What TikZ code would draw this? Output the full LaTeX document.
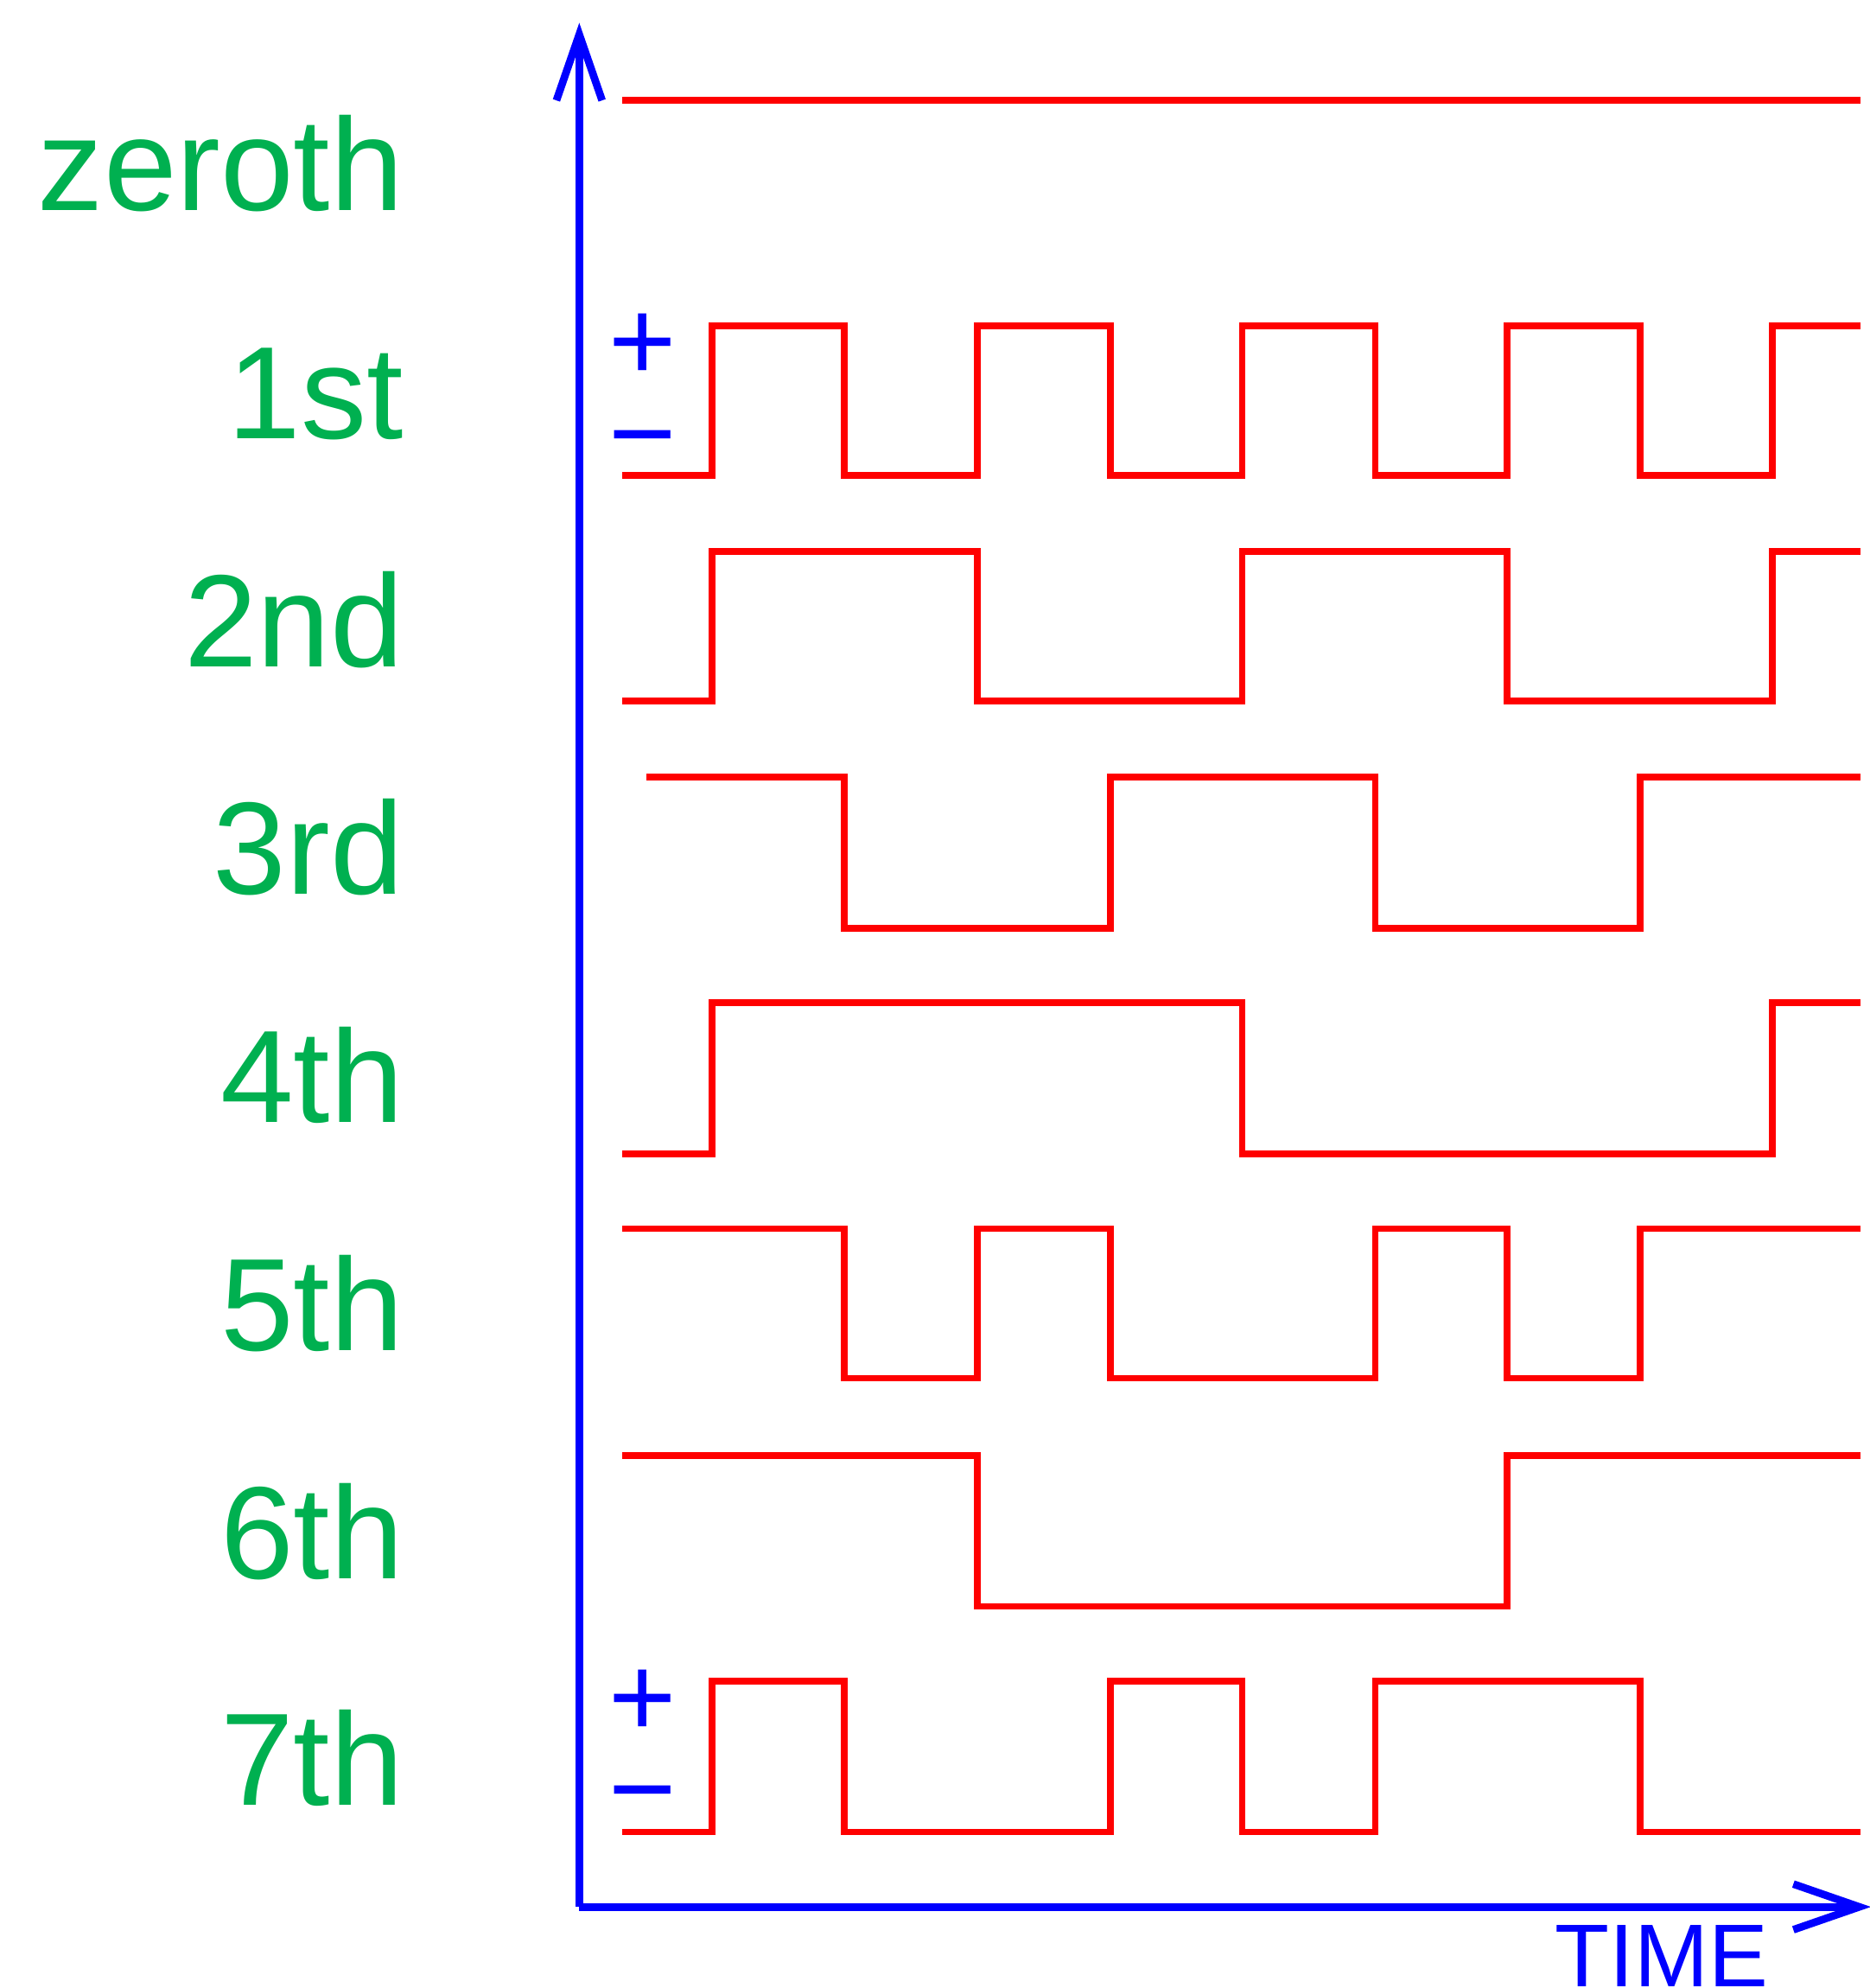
\documentclass[tikz,border=0pt]{standalone}
\usepackage{fontspec}
\setmainfont{Liberation Sans}
\usepackage{tikz}
\usetikzlibrary{arrows.meta, positioning}

\definecolor{lblgreen}{RGB}{0,176,80}

\tikzset{
    wave/.style={red, line width=1.5pt},
    axis/.style={blue, line width=1.7pt, -{Straight Barb[length=5.2mm, width=3.6mm]}},
    orderlbl/.style={lblgreen, anchor=base east, inner sep=0pt, font=\fontsize{29.5}{35}\selectfont},
    signlbl/.style={blue, anchor=base, inner sep=0pt, font=\fontsize{26}{30}\selectfont}
}

\begin{document}
\begin{tikzpicture}[x=0.01cm, y=-0.01cm]
    \useasboundingbox (0,0) rectangle (1475,1568);

    % Axes
    \coordinate (origin) at (457,1504);
    \coordinate (ytip) at (457,18);
    \coordinate (xtip) at (1476,1504);
    \draw[axis] (origin) -- (ytip);
    \draw[axis] (origin) -- (xtip);
    \node[blue, anchor=base west, inner sep=0pt, font=\fontsize{20}{24}\selectfont] (time) at (1226,1567) {TIME};

    % Row labels
    \node[orderlbl] (lbl0) at (319,166) {zeroth};
    \node[orderlbl] (lbl1) at (319,346) {1st};
    \node[orderlbl] (lbl2) at (319,526) {2nd};
    \node[orderlbl] (lbl3) at (319,705) {3rd};
    \node[orderlbl] (lbl4) at (319,885) {4th};
    \node[orderlbl] (lbl5) at (319,1065) {5th};
    \node[orderlbl] (lbl6) at (319,1245) {6th};
    \node[orderlbl] (lbl7) at (319,1424) {7th};

    % Signs
    \node[signlbl] (plus1) at (507,300) {+};
    \node[signlbl] (minus1) at (507,373) {−};
    \node[signlbl] (plus7) at (507,1370) {+};
    \node[signlbl] (minus7) at (507,1442) {−};

    % Waveforms
    \draw[wave] (491,79) -- (1468,79);
    \draw[wave] (491,375) -| (562,257) -| (666,375) -| (771,257) -| (876,375) -| (980,257)
        -| (1085,375) -| (1189,257) -| (1294,375) -| (1398,257) -- (1468,257);
    \draw[wave] (491,553) -| (562,435) -| (771,553) -| (980,435) -| (1189,553) -| (1398,435) -- (1468,435);
    \draw[wave] (510,613) -| (666,732) -| (876,613) -| (1085,732) -| (1294,613) -- (1468,613);
    \draw[wave] (491,910) -| (562,791) -| (980,910) -| (1398,791) -- (1468,791);
    \draw[wave] (491,969) -| (666,1087) -| (771,969) -| (876,1087) -| (1085,969) -| (1189,1087)
        -| (1294,969) -- (1468,969);
    \draw[wave] (491,1148) -| (771,1267) -| (1189,1148) -- (1468,1148);
    \draw[wave] (491,1445) -| (562,1326) -| (666,1445) -| (876,1326) -| (980,1445) -| (1085,1326)
        -| (1294,1445) -- (1468,1445);

\end{tikzpicture}
\end{document}
